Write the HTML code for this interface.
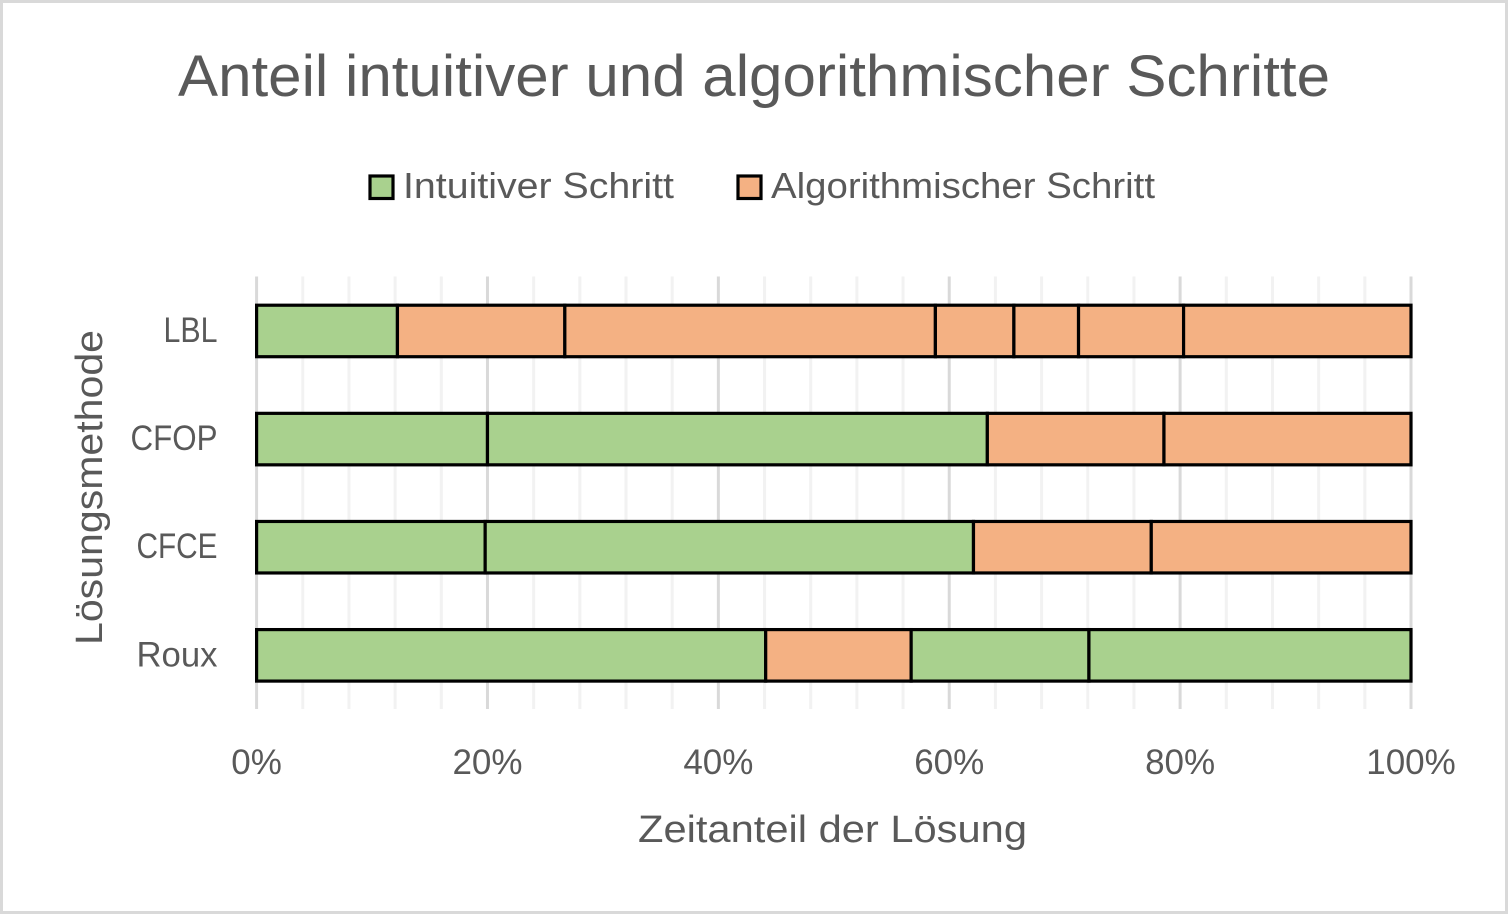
<!DOCTYPE html>
<html lang="de">
<head>
<meta charset="utf-8">
<title>Anteil intuitiver und algorithmischer Schritte</title>
<style>
html,body{margin:0;padding:0;background:#fff;width:1508px;height:914px;overflow:hidden}
svg{display:block}
text{font-family:"Liberation Sans",Arial,sans-serif;fill:#595959}
</style>
</head>
<body>
<svg id="chart" xmlns="http://www.w3.org/2000/svg" width="1508" height="914" viewBox="0 0 1508 914">
  <rect x="1.5" y="1.5" width="1505" height="911" fill="#ffffff" stroke="#d9d9d9" stroke-width="3"/>
  <text x="178" y="96" font-size="58" textLength="1152" lengthAdjust="spacingAndGlyphs">Anteil intuitiver und algorithmischer Schritte</text>
  <g id="grid"></g>
  <g id="bars"></g>
  <g id="xticks"></g>
  <g id="yticks"></g>
  <g>
    <g>
      <rect x="370" y="176" width="23" height="22.500" fill="#a9d18e" stroke="#000" stroke-width="3.2"/>
      <text x="403" y="198" font-size="36" textLength="271" lengthAdjust="spacingAndGlyphs">Intuitiver Schritt</text>
    </g>
    <g>
      <rect x="738" y="176" width="23" height="22.500" fill="#f4b183" stroke="#000" stroke-width="3.2"/>
      <text x="771" y="198" font-size="36" textLength="384" lengthAdjust="spacingAndGlyphs">Algorithmischer Schritt</text>
    </g>
  </g>
  <text x="638" y="842" font-size="38" textLength="389" lengthAdjust="spacingAndGlyphs">Zeitanteil der Lösung</text>
  <text transform="translate(102,645) rotate(-90)" x="0" y="0" font-size="38" textLength="315" lengthAdjust="spacingAndGlyphs">Lösungsmethode</text>
</svg>
<script>
const categories = ['LBL', 'CFOP', 'CFCE', 'Roux'];
const lblValues = [12.2, 14.5, 32.1, 6.8, 5.6, 9.1, 19.7];
const lblKinds = ['I', 'A', 'A', 'A', 'A', 'A', 'A'];
const cfopValues = [20.0, 43.3, 15.3, 21.4];
const cfopKinds = ['I', 'I', 'A', 'A'];
const cfceValues = [19.8, 42.3, 15.4, 22.5];
const cfceKinds = ['I', 'I', 'A', 'A'];
const rouxValues = [44.1, 12.6, 15.4, 27.9];
const rouxKinds = ['I', 'A', 'I', 'I'];
const seriesValues = [lblValues, cfopValues, cfceValues, rouxValues];
const seriesKinds = [lblKinds, cfopKinds, cfceKinds, rouxKinds];
const xTickValues = [0, 20, 40, 60, 80, 100];
const xTickLabels = ['0%', '20%', '40%', '60%', '80%', '100%'];
const minorStep = 4;

const NS = 'http://www.w3.org/2000/svg';
const plot = {left: 256.6, right: 1411, top: 276.5, bottom: 709};
const barHeight = 51.5;
const fills = {I: '#a9d18e', A: '#f4b183'};
const labelFit = {LBL: 54, CFOP: 87, CFCE: 81, Roux: 81};
const xScale = v => plot.left + (v / 100) * (plot.right - plot.left);
const yBand = i => plot.top + (i + 0.5) * (plot.bottom - plot.top) / categories.length + 0.4;
const make = (parent, tag, props) => {
  const el = document.createElementNS(NS, tag);
  for (const k in props) el.setAttribute(k, props[k]);
  parent.appendChild(el);
  return el;
};

const gridG = document.getElementById('grid');
for (let v = 0; v <= 100; v += minorStep) {
  const major = xTickValues.includes(v);
  const line = make(gridG, 'line', {x1: xScale(v), x2: xScale(v), y1: plot.top, y2: plot.bottom,
    stroke: major ? '#d9d9d9' : '#f2f2f2', 'stroke-width': 3});
  
  
}

const barsG = document.getElementById('bars');
categories.forEach((cat, i) => {
  let cum = 0;
  const y = yBand(i) - barHeight / 2;
  seriesValues[i].forEach((val, j) => {
    const rect = make(barsG, 'rect', {x: xScale(cum), y: y, width: xScale(cum + val) - xScale(cum), height: barHeight,
      fill: fills[seriesKinds[i][j]], stroke: '#000', 'stroke-width': 3.2});
    
    
    cum += val;
  });
});

const xG = document.getElementById('xticks');
xTickValues.forEach((v, i) => {
  const t = make(xG, 'text', {x: xScale(v), y: 774, 'font-size': 35, 'text-anchor': 'middle'});
  
  
  t.textContent = xTickLabels[i];
});

const yG = document.getElementById('yticks');
categories.forEach((cat, i) => {
  const t = make(yG, 'text', {x: 217.5, y: yBand(i) + 11, 'font-size': 35, 'text-anchor': 'end'});
  if (labelFit[cat]) {
    t.setAttribute('textLength', labelFit[cat]);
    t.setAttribute('lengthAdjust', 'spacingAndGlyphs');
  }
  
  
  t.textContent = cat;
});
</script>
</body>
</html>
